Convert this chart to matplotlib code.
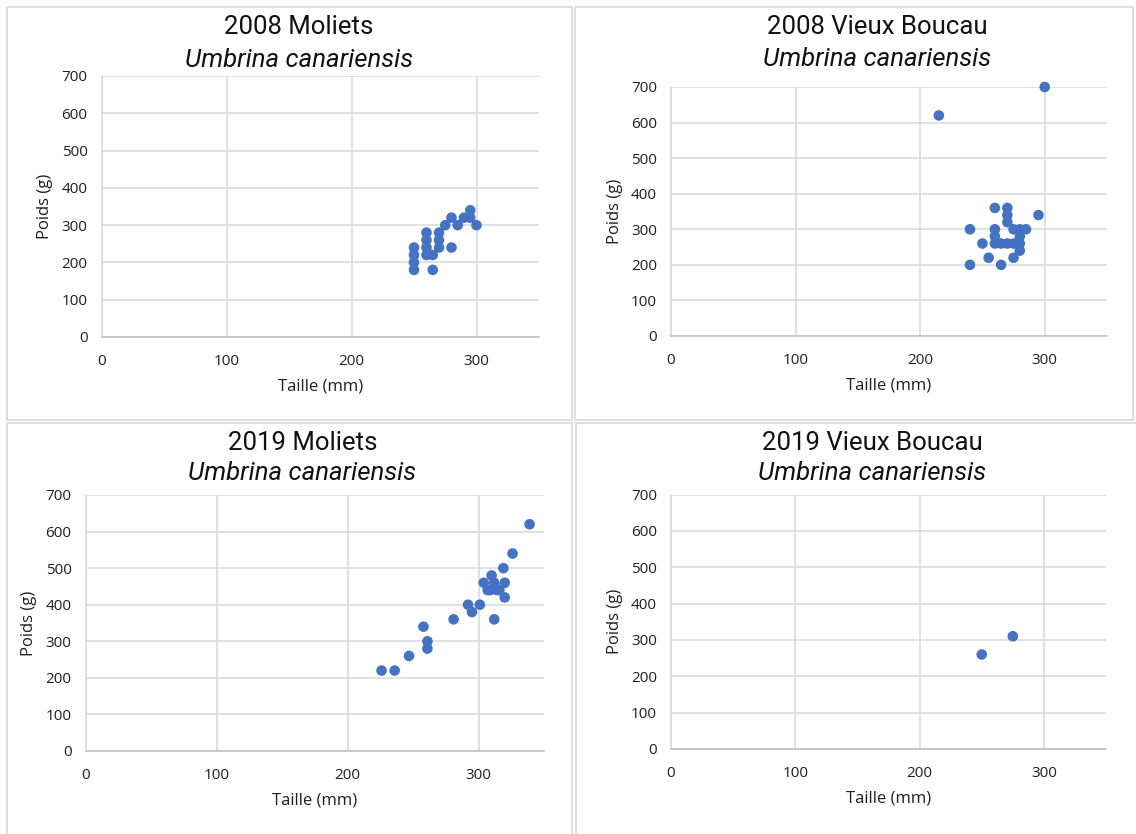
import matplotlib.pyplot as plt
from matplotlib.patches import Rectangle

# Umbrina canariensis - taille (mm) / poids (g)
moliets_2008_taille = [250, 250, 250, 250, 260, 260, 260, 260, 265, 265,
                       270, 270, 270, 275, 280, 280, 285, 290, 295, 295, 300]
moliets_2008_poids = [180, 200, 220, 240, 220, 240, 260, 280, 180, 220,
                      240, 260, 280, 300, 320, 240, 300, 320, 340, 320, 300]

vb_2008_taille = [215, 300, 240, 240, 250, 255, 260, 260, 260, 260, 265, 265,
                  270, 270, 270, 270, 275, 275, 275, 280, 280, 280, 280, 285, 295]
vb_2008_poids = [620, 700, 300, 200, 260, 220, 360, 300, 280, 260, 200, 260,
                 360, 340, 320, 260, 300, 260, 220, 300, 280, 260, 240, 300, 340]

moliets_2019_taille = [226, 236, 247, 258, 261, 261, 281, 292, 295, 301, 304,
                       307, 310, 312, 314, 312, 319, 320, 320, 326, 339, 309, 316]
moliets_2019_poids = [220, 220, 260, 340, 300, 280, 360, 400, 380, 400, 460,
                      440, 480, 460, 440, 360, 500, 460, 420, 540, 620, 440, 440]

vb_2019_taille = [250, 275]
vb_2019_poids = [260, 310]

titres = ['2008 Moliets', '2008 Vieux Boucau', '2019 Moliets', '2019 Vieux Boucau']
espece = 'Umbrina canariensis'
x_ticks = [0, 100, 200, 300]
y_ticks = [0, 100, 200, 300, 400, 500, 600, 700]

W, H = 1136, 834
fig = plt.figure(figsize=(W / 100, H / 100), dpi=100)

def px_box(x0, y0, x1, y1):
    return [x0 / W, 1 - y1 / H, (x1 - x0) / W, (y1 - y0) / H]

# chart frames (Excel chart areas)
frames = [(7, 7, 572, 420), (575, 7, 1133, 420), (7, 423, 572, 840), (576, 423, 1140, 840)]
for x0, y0, x1, y1 in frames:
    fig.patches.append(Rectangle((x0 / W, 1 - y1 / H), (x1 - x0) / W, (y1 - y0) / H,
                                 transform=fig.transFigure, fill=False,
                                 edgecolor='#d9d9d9', lw=1.2))

boxes = [(101.5, 76, 539, 337), (671, 87, 1107, 336), (85.5, 495, 544, 751), (671, 494.5, 1106, 749)]
title_pos = [(299, 27, 60), (877, 27, 58.5), (302.5, 443, 473.5), (872, 443, 473)]
data = [(moliets_2008_taille, moliets_2008_poids), (vb_2008_taille, vb_2008_poids),
        (moliets_2019_taille, moliets_2019_poids), (vb_2019_taille, vb_2019_poids)]

tick_font = 'Open Sans'
txt_col = '#1f1f1f'

for box, (tx, ty1, ty2), titre, (xs, ys) in zip(boxes, title_pos, titres, data):
    ax = fig.add_axes(px_box(*box))
    ax.scatter(xs, ys, s=58, color='#4472C4', edgecolors='none', zorder=3, clip_on=False)
    ax.set_xlim(0, 350)
    ax.set_ylim(0, 700)
    ax.set_xticks(x_ticks)
    ax.set_yticks(y_ticks)
    ax.grid(True, color='#d9d9d9', lw=1.1)
    ax.set_axisbelow(True)
    for side in ['top', 'right']:
        ax.spines[side].set_visible(False)
    ax.spines['left'].set_color('#d9d9d9')
    ax.spines['bottom'].set_color('#bfbfbf')
    ax.spines['left'].set_linewidth(1.1)
    ax.spines['bottom'].set_linewidth(1.1)
    ax.tick_params(length=0, labelsize=11, labelcolor=txt_col)
    ax.tick_params(axis='y', pad=10)
    ax.tick_params(axis='x', pad=12)
    for lab in ax.get_xticklabels() + ax.get_yticklabels():
        lab.set_fontfamily(tick_font)
    ax.set_xlabel('Taille (mm)', fontsize=12, family=tick_font, color=txt_col, labelpad=7)
    ax.set_ylabel('Poids (g)', fontsize=12, family=tick_font, color=txt_col, labelpad=6)
    fig.text(tx / W, 1 - ty1 / H, titre, ha='center', va='center',
             fontsize=18.5, family='Roboto', color='#111111')
    fig.text(tx / W, 1 - ty2 / H, espece, ha='center', va='center',
             fontsize=18.5, family='Roboto', style='italic', color='#111111')

fig.savefig('out.png', dpi=100)
